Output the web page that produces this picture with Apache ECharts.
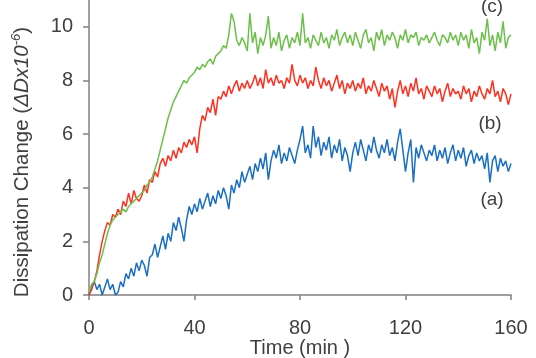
<!DOCTYPE html>
<html>
<head>
<meta charset="utf-8">
<script src="https://cdn.jsdelivr.net/npm/echarts@6/dist/echarts.min.js"></script>
<style>
    html, body { margin: 0; padding: 0; background: #fff; }
    #main { width: 536px; height: 358px; }
</style>
</head>
<body>
<div id="main"></div>
<script>
// sampling step of the curves, minutes
var timeStep = 1;

// (a) blue, t = 0..160 min
var seriesA = [
    0.0, 0.3, 0.5, 0.2, 0.4, 0.0, 0.3, 0.6, 0.2, 0.4,
    0.0, 0.1, 0.5, 0.3, 0.8, 0.6, 1.0, 0.7, 1.2, 0.9,
    1.3, 1.1, 0.7, 1.4, 1.5, 1.9, 1.4, 1.8, 2.2, 1.7,
    2.3, 2.0, 2.7, 2.4, 2.9, 2.5, 2.0, 2.8, 3.3, 3.0,
    3.4, 3.1, 3.6, 3.2, 3.5, 3.8, 3.3, 3.7, 3.4, 3.9,
    3.6, 4.0, 3.7, 3.2, 4.1, 3.8, 4.3, 4.0, 4.6, 4.2,
    4.5, 4.8, 4.3, 4.9, 4.6, 5.1, 4.7, 5.3, 4.3, 5.0,
    5.4, 5.1, 5.6, 4.9, 5.3, 5.0, 5.5, 5.2, 4.9, 5.4,
    5.8, 6.3, 5.3, 5.6, 5.1, 6.3, 5.5, 5.9, 5.2, 5.7,
    5.4, 5.9, 5.1, 5.6, 5.3, 5.8, 5.0, 5.5, 5.2, 4.6,
    5.3, 5.7, 5.2, 5.8, 5.4, 5.0, 5.6, 5.3, 5.9, 5.4,
    5.1, 5.6, 5.3, 5.8, 5.2, 5.5, 5.0, 5.7, 6.2, 5.4,
    4.6, 5.3, 5.8, 4.2, 5.5, 5.1, 5.6, 5.3, 5.0, 5.4,
    5.2, 5.6, 5.0, 5.4, 5.1, 5.5, 4.9, 5.3, 5.6, 5.0,
    5.4, 5.1, 5.5, 4.8, 5.2, 5.4, 4.9, 5.3, 5.0, 5.2,
    4.7, 5.3, 4.2, 5.0, 5.2, 4.6, 5.1, 4.8, 5.0, 4.6,
    4.9
];

// (b) red
var seriesB = [
    0.0, 0.2, 0.5, 0.9, 1.5, 2.0, 2.4, 2.7, 2.6, 3.0,
    2.9, 3.2, 3.0, 3.5, 3.3, 3.8, 3.4, 3.9, 3.6, 3.5,
    3.7, 4.1, 3.8, 4.3, 4.2, 4.6, 4.4, 4.9, 5.1, 4.8,
    5.2, 5.0, 5.4, 5.1, 5.5, 5.3, 5.7, 5.5, 5.8, 5.6,
    5.9, 5.3, 6.2, 6.7, 6.5, 7.0, 6.8, 7.3, 6.7, 7.4,
    7.3, 7.6, 7.4, 7.8, 7.5, 7.8, 8.0, 7.6, 7.9, 7.7,
    8.0, 7.7, 7.9, 8.2, 7.8, 8.1, 7.7, 8.4, 7.9, 8.1,
    7.8, 8.2, 7.9, 8.0, 7.7, 8.1, 7.9, 8.6, 8.0, 7.8,
    8.2, 7.9, 8.1, 7.7, 8.0, 7.8, 8.5, 8.0, 7.7, 8.1,
    7.8, 8.0, 7.6, 7.9, 8.2, 7.7, 8.0, 7.5, 7.9, 7.7,
    8.0, 7.6, 7.9, 7.7, 8.1, 7.5, 7.8, 7.6, 8.0, 7.7,
    7.4, 7.9, 7.6, 7.8, 7.3, 7.7, 7.0, 7.6, 8.0, 7.5,
    7.8, 7.4, 7.9, 7.6, 8.1, 7.5, 7.7, 7.3, 7.8, 7.6,
    7.4, 7.8, 7.5, 7.7, 7.2, 7.6, 7.9, 7.4, 7.7, 7.5,
    7.6, 7.3, 7.8, 7.5, 7.7, 7.2, 7.6, 7.4, 7.8, 7.5,
    7.3, 7.7, 7.5, 8.0, 7.4, 7.6, 7.2, 7.7, 7.5, 7.1,
    7.5
];

// (c) green
var seriesC = [
    0.1, 0.4, 0.5, 0.8, 1.2, 1.5, 1.9, 2.3, 2.6, 2.8,
    2.9, 3.0, 3.1, 3.2, 3.1, 3.3, 3.4, 3.5, 3.6, 3.7,
    3.8, 3.9, 4.1, 4.2, 4.4, 4.7, 5.0, 5.4, 5.8, 6.2,
    6.6, 6.9, 7.2, 7.4, 7.6, 7.8, 8.0, 7.9, 8.1, 8.2,
    8.3, 8.5, 8.4, 8.6, 8.5, 8.7, 8.8, 8.6, 8.9, 9.0,
    9.1, 9.3, 9.2, 9.7, 10.5, 10.2, 9.5, 9.3, 9.6, 9.4,
    9.1, 10.5, 9.4, 9.8, 9.0, 9.6, 9.3, 9.7, 10.4, 9.2,
    9.6, 9.3, 9.8, 9.1, 9.5, 9.7, 9.2, 9.6, 9.4, 9.8,
    9.3, 10.5, 9.4, 9.6, 9.2, 9.7, 9.5, 9.3, 9.8, 9.4,
    9.6, 9.2, 9.7, 9.5, 9.9, 9.3, 9.6, 9.8, 9.4, 9.7,
    9.3, 9.8, 9.5, 9.2, 9.7, 9.9, 9.4, 9.6, 9.1, 9.8,
    9.5, 9.9, 9.3, 9.7, 9.5, 9.8, 9.6, 9.2, 9.7, 9.5,
    9.9, 9.4, 9.7, 9.6, 9.8, 9.3, 9.6, 9.5, 9.7, 9.4,
    9.6, 9.8, 9.5, 9.3, 9.7, 9.6, 9.4, 9.8, 9.5, 9.7,
    9.3, 9.8, 9.5, 9.7, 9.2, 9.9, 9.4, 9.6, 9.0, 9.8,
    9.5, 10.3, 9.3, 9.7, 9.1, 9.8, 9.4, 10.2, 9.2, 9.6,
    9.7
];

var seriesLabels = ['(a)', '(b)', '(c)'];
var xTicks = { min: 0, max: 160, interval: 40 };
var yTicks = { min: 0, max: 11, interval: 2 };

function toPairs(values) {
    var out = [];
    for (var i = 0; i < values.length; i++) {
        out.push([i * timeStep, values[i]]);
    }
    return out;
}

var axisColor = '#808080';
var textColor = '#404040';
var fontFamily = '"Liberation Sans", Arial, sans-serif';

var myChart = echarts.init(document.getElementById('main'));
var option = {
    backgroundColor: '#fff',
    animation: false,
    grid: { left: 89, right: 25, top: 0, bottom: 63, outerBoundsMode: 'none', containLabel: false },
    xAxis: {
        type: 'value',
        min: xTicks.min,
        max: xTicks.max,
        interval: xTicks.interval,
        axisLine: { lineStyle: { color: axisColor, width: 1.5 } },
        axisTick: { length: 5, lineStyle: { color: axisColor, width: 1.5 } },
        axisLabel: { color: textColor, fontSize: 20, fontFamily: fontFamily, margin: 23 },
        splitLine: { show: false }
    },
    yAxis: {
        type: 'value',
        min: yTicks.min,
        max: yTicks.max,
        interval: yTicks.interval,
        axisLine: { show: true, lineStyle: { color: axisColor, width: 1.5 } },
        axisTick: { show: true, length: 6, lineStyle: { color: axisColor, width: 1.5 } },
        axisLabel: { color: textColor, fontSize: 20, fontFamily: fontFamily, margin: 16, showMaxLabel: false },
        splitLine: { show: false }
    },
    graphic: [
        // axis titles
        {
            type: 'text',
            x: 300, y: 348,
            style: { text: 'Time (min )', align: 'center', verticalAlign: 'middle', fill: textColor, fontSize: 20, fontFamily: fontFamily }
        },
        {
            type: 'text',
            x: 22, y: 162,
            rotation: Math.PI / 2,
            style: {
                text: '{n|Dissipation Change (}{i|ΔDx10}{s|-6}{n|)}',
                align: 'center',
                verticalAlign: 'middle',
                fill: textColor,
                rich: {
                    n: { fontSize: 20.5, fontFamily: fontFamily, fill: textColor },
                    i: { fontSize: 20.5, fontFamily: fontFamily, fontStyle: 'italic', fill: textColor },
                    s: { fontSize: 13, fontFamily: fontFamily, fontStyle: 'italic', fill: textColor, verticalAlign: 'top', lineHeight: 24 }
                }
            }
        },
        // curve labels
        { type: 'text', x: 492, y: 200, style: { text: seriesLabels[0], align: 'center', verticalAlign: 'middle', fill: textColor, fontSize: 19, fontFamily: fontFamily } },
        { type: 'text', x: 490, y: 124, style: { text: seriesLabels[1], align: 'center', verticalAlign: 'middle', fill: textColor, fontSize: 19, fontFamily: fontFamily } },
        { type: 'text', x: 492, y: 7, style: { text: seriesLabels[2], align: 'center', verticalAlign: 'middle', fill: textColor, fontSize: 19, fontFamily: fontFamily } }
    ],
    series: [
        {
            name: seriesLabels[0],
            type: 'line',
            symbol: 'none',
            lineStyle: { color: '#1a6fc2', width: 1.5 },
            data: toPairs(seriesA)
        },
        {
            name: seriesLabels[1],
            type: 'line',
            symbol: 'none',
            lineStyle: { color: '#ff3020', width: 1.5 },
            data: toPairs(seriesB)
        },
        {
            name: seriesLabels[2],
            type: 'line',
            symbol: 'none',
            lineStyle: { color: '#6cc04a', width: 1.5 },
            data: toPairs(seriesC)
        }
    ]
};
myChart.setOption(option);
</script>
</body>
</html>
